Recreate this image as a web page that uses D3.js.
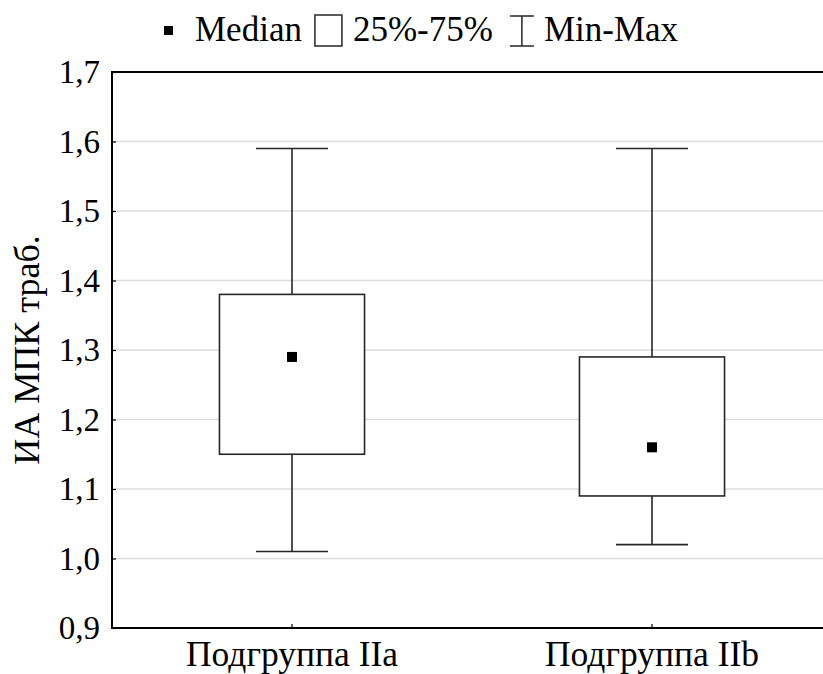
<!DOCTYPE html>
<html>
<head>
<meta charset="utf-8">
<script src="https://cdn.jsdelivr.net/npm/d3@7"></script>
<style>
  html, body { margin: 0; padding: 0; background: #fff; }
</style>
</head>
<body>
<svg id="chart" width="823" height="674"></svg>
<script>
// Box-plot summary per subgroup
const groups  = ["Подгруппа IIa", "Подгруппа IIb"];
const minVals = [1.01, 1.02];
const q1Vals  = [1.15, 1.09];
const medVals = [1.29, 1.16];
const q3Vals  = [1.38, 1.29];
const maxVals = [1.59, 1.59];

const yTicks = [0.9, 1.0, 1.1, 1.2, 1.3, 1.4, 1.5, 1.6, 1.7];
const yTitle = "ИА МПК траб.";
const legendItems = ["Median", "25%-75%", "Min-Max"];

const FONT = '"Liberation Serif", "Times New Roman", Tinos, serif';
const serif = sel => sel.style("font-family", FONT);

const svg = d3.select("#chart");
const margin = { left: 112, top: 72, right: 832, bottom: 628 };

const x = d3.scaleBand().domain(groups).range([margin.left, margin.right]).padding(0);
const y = d3.scaleLinear().domain([0.9, 1.7]).range([margin.bottom, margin.top]);
const bw = x.bandwidth();
const fmt = d => d.toFixed(1).replace(".", ",");

// Horizontal grid
svg.append("g")
  .selectAll("line")
  .data(yTicks.filter(t => t > 0.95 && t < 1.65))
  .join("line")
  .attr("x1", margin.left).attr("x2", margin.right)
  .attr("y1", d => y(d)).attr("y2", d => y(d))
  .attr("stroke", "#dcdcdc").attr("stroke-width", 1.5);

// Y axis
const yAxis = svg.append("g")
  .attr("transform", `translate(${margin.left},0)`)
  .call(d3.axisLeft(y).tickValues(yTicks).tickFormat(fmt).tickSizeInner(-4).tickSizeOuter(0).tickPadding(12));
yAxis.select(".domain").remove();
yAxis.selectAll("line").attr("stroke", "#000").attr("stroke-width", 1.2);
yAxis.selectAll("text").attr("font-size", 33).attr("fill", "#000").call(serif);

// X axis
const xAxis = svg.append("g")
  .attr("transform", `translate(0,${margin.bottom})`)
  .call(d3.axisBottom(x).tickSizeInner(-4).tickSizeOuter(0));
xAxis.select(".domain").remove();
xAxis.selectAll("line").attr("stroke", "#000").attr("stroke-width", 1.2);
xAxis.selectAll("text").attr("font-size", 35.5).attr("fill", "#000")
  .attr("dy", null).attr("y", 38).call(serif);

// Plot frame
svg.append("rect")
  .attr("x", margin.left).attr("y", margin.top)
  .attr("width", margin.right - margin.left).attr("height", margin.bottom - margin.top)
  .attr("fill", "none").attr("stroke", "#000").attr("stroke-width", 2);

// Y title
svg.append("text")
  .attr("transform", `translate(39,${(margin.top + margin.bottom) / 2}) rotate(-90)`)
  .attr("text-anchor", "middle")
  .attr("font-size", 36)
  .call(serif)
  .text(yTitle);

// Boxes, whiskers and medians
const boxW = bw * 0.403;
const capW = bw * 0.2;
const stats = groups.map((g, i) => ({
  g, min: minVals[i], q1: q1Vals[i], med: medVals[i], q3: q3Vals[i], max: maxVals[i],
  cx: x(g) + bw / 2
}));

const box = svg.append("g").selectAll("g").data(stats).join("g");
const ink = "#262626";
box.append("line")
  .attr("x1", d => d.cx).attr("x2", d => d.cx)
  .attr("y1", d => y(d.max)).attr("y2", d => y(d.q3))
  .attr("stroke", ink).attr("stroke-width", 1.6);
box.append("line")
  .attr("x1", d => d.cx).attr("x2", d => d.cx)
  .attr("y1", d => y(d.q1)).attr("y2", d => y(d.min))
  .attr("stroke", ink).attr("stroke-width", 1.6);
box.append("line")
  .attr("x1", d => d.cx - capW / 2).attr("x2", d => d.cx + capW / 2)
  .attr("y1", d => y(d.max)).attr("y2", d => y(d.max))
  .attr("stroke", ink).attr("stroke-width", 1.6);
box.append("line")
  .attr("x1", d => d.cx - capW / 2).attr("x2", d => d.cx + capW / 2)
  .attr("y1", d => y(d.min)).attr("y2", d => y(d.min))
  .attr("stroke", ink).attr("stroke-width", 1.6);
box.append("rect")
  .attr("x", d => d.cx - boxW / 2).attr("width", boxW)
  .attr("y", d => y(d.q3)).attr("height", d => y(d.q1) - y(d.q3))
  .attr("fill", "#fff").attr("stroke", ink).attr("stroke-width", 1.6);
box.append("rect")
  .attr("x", d => d.cx - 5).attr("y", d => y(d.med) - 5)
  .attr("width", 10).attr("height", 10)
  .attr("fill", "#000");

// Legend
const lg = svg.append("g");
const baseY = 41;
const addText = (xPos, s) => lg.append("text").attr("x", xPos).attr("y", baseY)
  .attr("font-size", 35).call(serif).text(s);
let cx = 164;
lg.append("rect").attr("x", cx).attr("y", 26).attr("width", 9).attr("height", 9).attr("fill", "#000");
cx = 195;
let t = addText(cx, legendItems[0]);
cx += t.node().getComputedTextLength() + 13;
lg.append("rect").attr("x", cx).attr("y", 15).attr("width", 27).attr("height", 31)
  .attr("fill", "#fff").attr("stroke", ink).attr("stroke-width", 1.5);
cx += 38;
t = addText(cx, legendItems[1]);
cx += t.node().getComputedTextLength() + 17;
const ix = cx + 12;
lg.append("line").attr("x1", ix).attr("x2", ix).attr("y1", 16).attr("y2", 46).attr("stroke", ink).attr("stroke-width", 1.5);
lg.append("line").attr("x1", ix - 12).attr("x2", ix + 12).attr("y1", 16).attr("y2", 16).attr("stroke", ink).attr("stroke-width", 1.5);
lg.append("line").attr("x1", ix - 12).attr("x2", ix + 12).attr("y1", 46).attr("y2", 46).attr("stroke", ink).attr("stroke-width", 1.5);
cx += 34;
addText(cx, legendItems[2]);
</script>
</body>
</html>
